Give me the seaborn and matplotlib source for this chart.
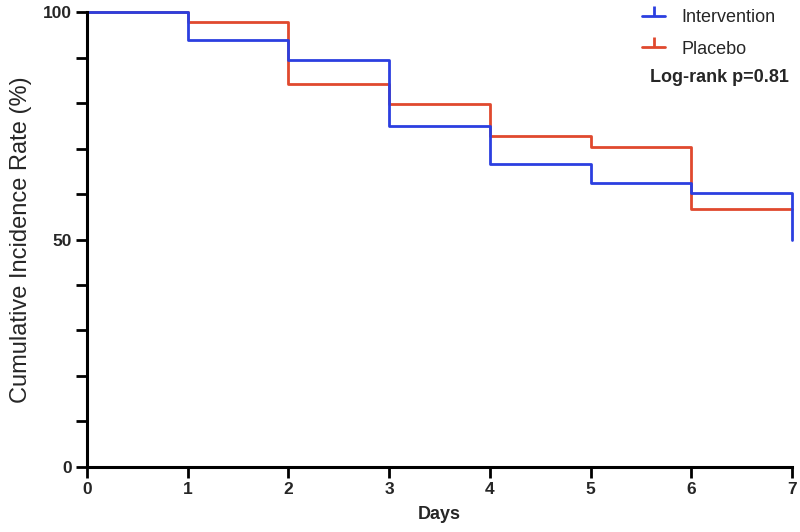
import matplotlib
matplotlib.use("Agg")
import matplotlib.pyplot as plt
from matplotlib.lines import Line2D
from matplotlib.ticker import MultipleLocator
import seaborn as sns
import pandas as pd

days = [0, 1, 2, 3, 4, 5, 6, 7]
intervention = [100, 93.8, 89.5, 75.0, 66.6, 62.5, 60.3, 49.9]
placebo = [100, 97.7, 84.2, 79.7, 72.7, 70.4, 56.7, 56.7]
groups = ["Intervention", "Placebo"]
colors = {"Intervention": "#2b3fe0", "Placebo": "#e0492e"}
xticks = [0, 1, 2, 3, 4, 5, 6, 7]
yticks = [0, 50, 100]

sns.set_theme(style="white")
plt.rcParams["font.family"] = ["Liberation Sans", "DejaVu Sans"]

df = pd.DataFrame({
    "Days": days * 2,
    "Rate": intervention + placebo,
    "Group": [groups[0]] * len(days) + [groups[1]] * len(days),
})

fig = plt.figure(figsize=(8, 5.32), dpi=100)
ax = fig.add_axes([0.10875, 0.1222, 0.88125, 0.8552])

# draw placebo first so intervention sits on top
for g in [groups[1], groups[0]]:
    sub = df[df["Group"] == g]
    sns.lineplot(data=sub, x="Days", y="Rate", ax=ax, color=colors[g],
                 drawstyle="steps-post", linewidth=2, legend=False,
                 estimator=None, sort=False)
for ln in ax.lines:
    ln.set_clip_on(False)

ax.set_xlim(0, 7)
ax.set_ylim(0, 100)
ax.set_xticks(xticks)
ax.set_yticks(yticks)
ax.yaxis.set_minor_locator(MultipleLocator(10))
for s in ["top", "right"]:
    ax.spines[s].set_visible(False)
for s in ["left", "bottom"]:
    ax.spines[s].set_linewidth(2.2)
    ax.spines[s].set_color("black")
ax.tick_params(axis="both", which="major", direction="out", length=8, width=2,
               color="black", labelsize=12.5, pad=3, bottom=True, left=True)
ax.tick_params(axis="y", which="minor", direction="out", length=8, width=2,
               color="black", left=True)
for lab in ax.get_xticklabels() + ax.get_yticklabels():
    lab.set_fontweight("bold")
ax.set_xlabel("Days", fontsize=13, fontweight="bold", labelpad=6)
ax.set_ylabel("Cumulative Incidence Rate (%)", fontsize=17, labelpad=8)
ax.grid(False)

handles = [Line2D([0], [0], color=colors[g], lw=2, marker=2, markersize=7,
                  markeredgewidth=2) for g in groups]
leg = ax.legend(handles, groups, loc="upper right", bbox_to_anchor=(1.0, 1.042),
                frameon=False, fontsize=13, handlelength=1.3, labelspacing=0.8,
                handletextpad=0.9)
ax.text(0.995, 0.856, "Log-rank p=0.81", transform=ax.transAxes, ha="right",
        va="center", fontsize=13, fontweight="bold")

fig.savefig("out.png", dpi=100)
